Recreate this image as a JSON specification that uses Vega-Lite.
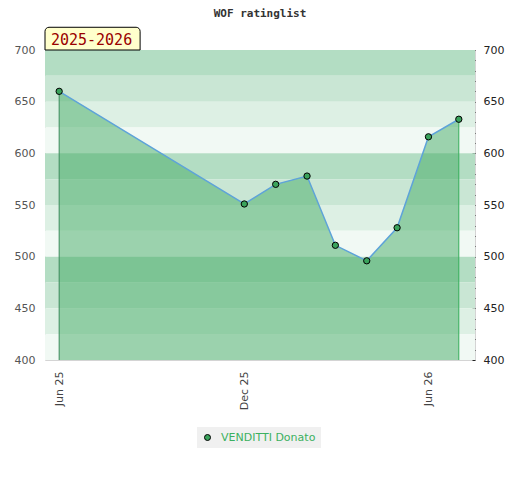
{
  "$schema": "https://vega.github.io/schema/vega-lite/v6.json",
  "width": 430,
  "height": 310,
  "autosize": {"type": "none"},
  "padding": {"left": 45, "top": 50, "right": 45, "bottom": 120},
  "background": "white",
  "title": {
    "text": "WOF ratinglist",
    "font": "DejaVu Sans Mono",
    "fontWeight": "bold",
    "fontSize": 11,
    "color": "#333333",
    "frame": "group",
    "anchor": "middle",
    "baseline": "alphabetic",
    "offset": -1
  },
  "data": {
    "values": [
      {"date": "2025-06-01", "rating": 660, "player": "VENDITTI Donato"},
      {"date": "2025-12-01", "rating": 551, "player": "VENDITTI Donato"},
      {"date": "2026-01-01", "rating": 570, "player": "VENDITTI Donato"},
      {"date": "2026-02-01", "rating": 578, "player": "VENDITTI Donato"},
      {"date": "2026-03-01", "rating": 511, "player": "VENDITTI Donato"},
      {"date": "2026-04-01", "rating": 496, "player": "VENDITTI Donato"},
      {"date": "2026-05-01", "rating": 528, "player": "VENDITTI Donato"},
      {"date": "2026-06-01", "rating": 616, "player": "VENDITTI Donato"},
      {"date": "2026-07-01", "rating": 633, "player": "VENDITTI Donato"}
    ],
    "format": {"parse": {"date": "date"}}
  },
  "resolve": {"axis": {"y": "independent"}},
  "layer": [
    {
      "data": {
        "values": [
          {"lo": 675, "hi": 700, "shade": "a"},
          {"lo": 650, "hi": 675, "shade": "b"},
          {"lo": 625, "hi": 650, "shade": "c"},
          {"lo": 600, "hi": 625, "shade": "d"},
          {"lo": 575, "hi": 600, "shade": "a"},
          {"lo": 550, "hi": 575, "shade": "b"},
          {"lo": 525, "hi": 550, "shade": "c"},
          {"lo": 500, "hi": 525, "shade": "d"},
          {"lo": 475, "hi": 500, "shade": "a"},
          {"lo": 450, "hi": 475, "shade": "b"},
          {"lo": 425, "hi": 450, "shade": "c"},
          {"lo": 400, "hi": 425, "shade": "d"}
        ]
      },
      "mark": {"type": "rect"},
      "encoding": {
        "y": {
          "field": "lo",
          "type": "quantitative",
          "scale": {"domain": [400, 700], "nice": false, "zero": false},
          "axis": {
            "orient": "left",
            "values": [400, 450, 500, 550, 600, 650, 700],
            "ticks": false,
            "domain": false,
            "grid": false,
            "labelPadding": 10,
            "labelFontSize": 11,
            "labelColor": "#555555",
            "title": null
          }
        },
        "y2": {"field": "hi"},
        "fill": {
          "field": "shade",
          "type": "nominal",
          "scale": {"domain": ["a", "b", "c", "d"], "range": ["#b3ddc3", "#c9e6d4", "#ddf0e4", "#f1f9f4"]},
          "legend": null
        }
      }
    },
    {
      "mark": {"type": "area", "color": "#46ac66", "opacity": 0.5},
      "encoding": {
        "x": {
          "field": "date",
          "type": "temporal",
          "scale": {
            "type": "utc",
            "domain": [
              {"year": 2025, "month": 5, "date": 18, "utc": true},
              {"year": 2026, "month": 7, "date": 17, "utc": true}
            ]
          },
          "axis": {
            "values": [
              {"year": 2025, "month": 6, "date": 1, "utc": true},
              {"year": 2025, "month": 12, "date": 1, "utc": true},
              {"year": 2026, "month": 6, "date": 1, "utc": true}
            ],
            "format": "%b %y",
            "labelAngle": -90,
            "ticks": false,
            "domain": false,
            "grid": false,
            "labelPadding": 11,
            "labelFontSize": 11,
            "labelColor": "#444444",
            "title": null
          }
        },
        "y": {"field": "rating", "type": "quantitative", "scale": {"domain": [400, 700], "nice": false, "zero": false}, "axis": null},
        "y2": {"datum": 400}
      }
    },
    {
      "transform": [{"filter": "time(datum.date) == utc(2025,5,1) || time(datum.date) == utc(2026,6,1)"}],
      "mark": {"type": "rule", "strokeWidth": 1},
      "encoding": {
        "x": {"field": "date", "type": "temporal"},
        "y": {"field": "rating", "type": "quantitative", "axis": null},
        "y2": {"datum": 400},
        "color": {
          "condition": {"test": "time(datum.date) < utc(2026,0,1)", "value": "#3b8a5b"},
          "value": "#35ae5a"
        }
      }
    },
    {
      "mark": {"type": "line", "color": "#5ea3d9", "strokeWidth": 1.5},
      "encoding": {
        "x": {"field": "date", "type": "temporal"},
        "y": {
          "field": "rating",
          "type": "quantitative",
          "axis": {
            "orient": "right",
            "values": [400, 410, 420, 430, 440, 450, 460, 470, 480, 490, 500, 510, 520, 530, 540, 550, 560, 570, 580, 590, 600, 610, 620, 630, 640, 650, 660, 670, 680, 690, 700],
            "labelExpr": "datum.value % 50 == 0 ? datum.label : ''",
            "labelOverlap": false,
            "tickSize": 3,
            "tickColor": "#222222",
            "offset": -3,
            "domain": false,
            "grid": false,
            "labelPadding": 8,
            "labelFontSize": 11,
            "labelColor": "#222222",
            "title": null
          }
        }
      }
    },
    {
      "mark": {"type": "point", "filled": true, "size": 40, "stroke": "black", "strokeWidth": 1, "opacity": 1},
      "encoding": {
        "x": {"field": "date", "type": "temporal"},
        "y": {"field": "rating", "type": "quantitative", "axis": null},
        "color": {
          "field": "player",
          "type": "nominal",
          "scale": {"range": ["#3aa35c"]},
          "legend": {
            "orient": "none",
            "legendX": 152,
            "legendY": 377,
            "title": null,
            "fillColor": "#f0f0f0",
            "padding": 5,
            "symbolType": "circle",
            "symbolSize": 36,
            "symbolStrokeColor": "black",
            "symbolStrokeWidth": 1,
            "symbolFillColor": "#3aa35c",
            "labelColor": "#3cb060",
            "labelFontSize": 11,
            "labelOffset": 8
          }
        }
      }
    },
    {
      "data": {"values": [{"label": "2025-2026"}]},
      "mark": {"type": "rect", "fill": "#ffffcc", "stroke": "black", "strokeWidth": 1, "cornerRadiusTopLeft": 4, "cornerRadiusTopRight": 4},
      "encoding": {
        "x": {"datum": {"year": 2025, "month": 5, "date": 18, "utc": true}, "type": "temporal"},
        "x2": {"datum": {"year": 2025, "month": 8, "date": 20, "utc": true}},
        "y": {"datum": 700, "type": "quantitative", "axis": null},
        "y2": {"datum": 722}
      }
    },
    {
      "data": {"values": [{"label": "2025-2026"}]},
      "mark": {"type": "text", "font": "DejaVu Sans Mono", "fontSize": 15, "color": "#990000", "align": "center", "baseline": "middle"},
      "encoding": {
        "x": {"datum": {"year": 2025, "month": 7, "date": 3, "utc": true}, "type": "temporal"},
        "y": {"datum": 709.5, "type": "quantitative", "axis": null},
        "text": {"field": "label"}
      }
    }
  ],
  "config": {
    "font": "DejaVu Sans",
    "view": {"stroke": "#d4d4d4"},
    "axis": {"labelFont": "DejaVu Sans"},
    "legend": {"labelFont": "DejaVu Sans"}
  }
}
